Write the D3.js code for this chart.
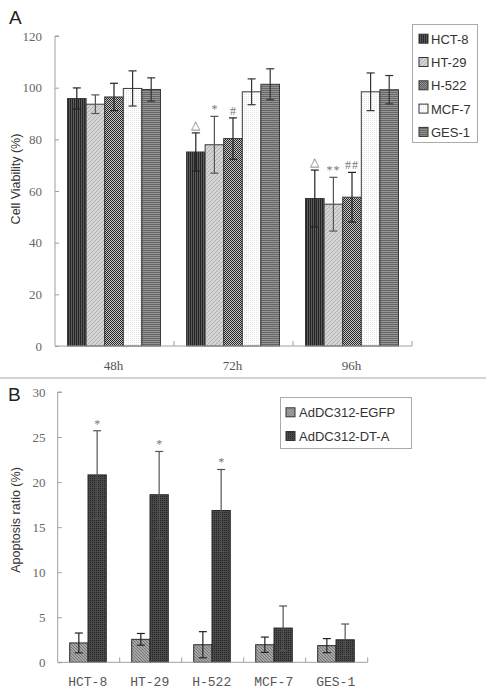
<!DOCTYPE html>
<html><head><meta charset="utf-8">
<script src="https://cdn.jsdelivr.net/npm/d3@7"></script>
<style>body{margin:0;background:#fff}svg{display:block}</style>
</head><body>
<svg id="c" width="486" height="693"></svg>
<script>
// ---------- DATA ----------
const timepoints = ["48h", "72h", "96h"];
const cellLinesA = ["HCT-8", "HT-29", "H-522", "MCF-7", "GES-1"];
const hct8Mean = [95.8, 75.1, 57.1];
const hct8Err  = [4.1, 7.4, 11.0];
const ht29Mean = [93.6, 77.9, 54.9];
const ht29Err  = [3.6, 11.0, 10.4];
const h522Mean = [96.4, 80.3, 57.6];
const h522Err  = [5.3, 8.0, 9.6];
const mcf7Mean = [99.7, 98.4, 98.4];
const mcf7Err  = [6.8, 5.0, 7.3];
const ges1Mean = [99.3, 101.3, 99.2];
const ges1Err  = [4.5, 6.0, 5.5];
const hct8Marks = ["", "\u25B3", "\u25B3"];
const ht29Marks = ["", "*", "**"];
const h522Marks = ["", "#", "##"];
const mcf7Marks = ["", "", ""];
const ges1Marks = ["", "", ""];
const yTicksA = [0, 20, 40, 60, 80, 100, 120];

const cellLinesB = ["HCT-8", "HT-29", "H-522", "MCF-7", "GES-1"];
const seriesB = ["AdDC312-EGFP", "AdDC312-DT-A"];
const egfpMean = [2.15, 2.55, 1.95, 1.95, 1.85];
const egfpErr  = [1.1, 0.65, 1.45, 0.85, 0.78];
const dtaMean  = [20.8, 18.6, 16.85, 3.8, 2.5];
const dtaErr   = [4.9, 4.8, 4.55, 2.45, 1.75];
const dtaMarks = ["*", "*", "*", "", ""];
const egfpMarks = ["", "", "", "", ""];
const yTicksB = [0, 5, 10, 15, 20, 25, 30];

// ---------- SETUP ----------
const svg = d3.select("#c");
const defs = svg.append("defs");
const serif = "'Liberation Serif','DejaVu Serif',serif";
const mono = "'Liberation Mono','DejaVu Sans Mono',monospace";
const sans = "'Liberation Sans',Arial,sans-serif";

function pat(id, w, h, bg, draw) {
  const p = defs.append("pattern").attr("id", id).attr("patternUnits", "userSpaceOnUse")
    .attr("width", w).attr("height", h);
  p.append("rect").attr("width", w).attr("height", h).attr("fill", bg);
  draw(p);
}
pat("pHCT8", 2, 2, "#5a5a5a", p => p.append("rect").attr("width", 1).attr("height", 2).attr("fill", "#262626"));
pat("pHT29", 4, 4, "#d4d4d4", p => p.append("path").attr("d", "M0,4 L4,0 M-1,1 L1,-1 M3,5 L5,3").attr("stroke", "#a8a8a8").attr("stroke-width", 0.8));
pat("pH522", 2, 2, "#c8c8c8", p => { p.append("rect").attr("width", 1).attr("height", 1).attr("fill", "#262626"); p.append("rect").attr("x", 1).attr("y", 1).attr("width", 1).attr("height", 1).attr("fill", "#262626"); });
pat("pMCF7", 2, 2, "#ffffff", p => p.append("rect").attr("width", 1).attr("height", 1).attr("fill", "#e2e2e2"));
pat("pGES1", 2, 2, "#959595", p => p.append("rect").attr("width", 2).attr("height", 1).attr("fill", "#666"));
pat("pEGFP", 3, 3, "#a6a6a6", p => p.append("path").attr("d", "M0,0 L3,3 M-1,2 L1,4 M2,-1 L4,1").attr("stroke", "#6a6a6a").attr("stroke-width", 0.8));
pat("pDTA", 2, 2, "#4a4a4a", p => p.append("rect").attr("width", 1).attr("height", 1).attr("fill", "#222"));

const fillsA = ["url(#pHCT8)", "url(#pHT29)", "url(#pH522)", "url(#pMCF7)", "url(#pGES1)"];
const errColA = ["#222", "#555", "#222", "#333", "#333"];
const fillsB = ["url(#pEGFP)", "url(#pDTA)"];
const errColB = ["#222", "#555"];

const meansA = [hct8Mean, ht29Mean, h522Mean, mcf7Mean, ges1Mean];
const errsA = [hct8Err, ht29Err, h522Err, mcf7Err, ges1Err];
const marksA = [hct8Marks, ht29Marks, h522Marks, mcf7Marks, ges1Marks];
const tableA = [];
timepoints.forEach((t, i) => cellLinesA.forEach((c, j) => tableA.push({t, c, j, v: meansA[j][i], e: errsA[j][i], m: marksA[j][i]})));

const axisCol = "#a0a0a0";

// ---------- PANEL A ----------
const xA = d3.scaleBand().domain(timepoints).range([55, 412]).padding(0);
const xAi = d3.scaleBand().domain(cellLinesA).range([12.5, 105.5]).padding(0);
const yA = d3.scaleLinear().domain([0, 120]).range([346, 36]);

const gA = svg.append("g");
gA.selectAll("rect.bar").data(tableA).join("rect").attr("class", "bar")
  .attr("x", d => xA(d.t) + xAi(d.c)).attr("width", xAi.bandwidth())
  .attr("y", d => yA(d.v)).attr("height", d => yA(0) - yA(d.v))
  .attr("fill", d => fillsA[d.j]).attr("stroke", "#3a3a3a").attr("stroke-width", 1);

const eA = gA.selectAll("g.err").data(tableA).join("g").attr("class", "err")
  .attr("stroke", d => errColA[d.j]).attr("stroke-width", 1.2);
eA.append("line").attr("x1", d => xA(d.t) + xAi(d.c) + xAi.bandwidth() / 2).attr("x2", d => xA(d.t) + xAi(d.c) + xAi.bandwidth() / 2)
  .attr("y1", d => yA(d.v + d.e)).attr("y2", d => yA(d.v - d.e));
[1, -1].forEach(s => eA.append("line")
  .attr("x1", d => xA(d.t) + xAi(d.c) + xAi.bandwidth() / 2 - 4).attr("x2", d => xA(d.t) + xAi(d.c) + xAi.bandwidth() / 2 + 4)
  .attr("y1", d => yA(d.v + s * d.e)).attr("y2", d => yA(d.v + s * d.e)));

gA.selectAll("text.mark").data(tableA.filter(d => d.m)).join("text").attr("class", "mark")
  .attr("x", d => xA(d.t) + xAi(d.c) + xAi.bandwidth() / 2)
  .attr("y", d => yA(d.v + d.e) - (d.m.includes("\u25B3") ? 4 : 3))
  .attr("text-anchor", "middle").attr("fill", "#777")
  .attr("font-family", d => d.m.includes("\u25B3") ? sans : serif)
  .attr("font-size", 12)
  .attr("letter-spacing", d => d.m.length > 1 ? 1 : 0)
  .text(d => d.m);

const axYA = gA.append("g").attr("transform", "translate(55,0)")
  .call(d3.axisRight(yA).tickValues(yTicksA).tickSize(4).tickFormat(""));
axYA.select(".domain").attr("stroke", axisCol).attr("d", `M4,${yA(120)}H0V${yA(0)}`);
axYA.selectAll(".tick line").attr("stroke", axisCol);
gA.selectAll("text.yt").data(yTicksA).join("text").attr("class", "yt")
  .attr("x", 42).attr("y", d => yA(d) + 4.5).attr("text-anchor", "end")
  .attr("font-family", serif).attr("font-size", 13).attr("fill", "#666").text(d => d);
gA.append("line").attr("x1", 55).attr("x2", 412).attr("y1", yA(0)).attr("y2", yA(0)).attr("stroke", axisCol);
gA.selectAll("line.xt").data(timepoints.slice(1).concat(["end"])).join("line").attr("class", "xt")
  .attr("x1", d => d === "end" ? 412 : xA(d)).attr("x2", d => d === "end" ? 412 : xA(d))
  .attr("y1", yA(0)).attr("y2", yA(0) - 5).attr("stroke", axisCol);
gA.selectAll("text.xl").data(timepoints).join("text").attr("class", "xl")
  .attr("x", d => xA(d) + xA.bandwidth() / 2 - 1).attr("y", 370).attr("text-anchor", "middle")
  .attr("font-family", serif).attr("font-size", 13).attr("fill", "#555").text(d => d);
gA.append("text").attr("transform", "translate(19.5,179) rotate(-90)").attr("text-anchor", "middle")
  .attr("font-family", sans).attr("font-size", 12.5).attr("fill", "#333").text("Cell Viability (%)");
gA.append("text").attr("x", 9).attr("y", 24).attr("font-family", sans).attr("font-size", 19).attr("fill", "#222").text("A");

const lgA = gA.append("g");
lgA.append("rect").attr("x", 412.5).attr("y", 24.5).attr("width", 65).attr("height", 118).attr("fill", "#fff").attr("stroke", "#aaa");
const lgAi = lgA.selectAll("g").data(cellLinesA).join("g").attr("transform", (d, i) => `translate(419,${38.7 + i * 23.3})`);
lgAi.append("rect").attr("x", 0).attr("y", -4.5).attr("width", 9).attr("height", 9).attr("fill", (d, i) => fillsA[i]).attr("stroke", "#333");
lgAi.append("text").attr("x", 12).attr("y", 5).attr("font-family", sans).attr("font-size", 13).attr("fill", "#333").text(d => d);

svg.append("line").attr("x1", 0).attr("x2", 486).attr("y1", 378).attr("y2", 378).attr("stroke", "#aaa").attr("stroke-width", 1.2);

// ---------- PANEL B ----------
const meansB = [egfpMean, dtaMean];
const errsB = [egfpErr, dtaErr];
const marksB = [egfpMarks, dtaMarks];
const tableB = [];
cellLinesB.forEach((c, i) => seriesB.forEach((s, j) => tableB.push({c, s, j, v: meansB[j][i], e: errsB[j][i], m: marksB[j][i]})));

const xB = d3.scaleBand().domain(cellLinesB).range([57.7, 367.7]).padding(0);
const xBi = d3.scaleBand().domain(seriesB).range([12, 48.6]).padding(0);
const yB = d3.scaleLinear().domain([0, 30]).range([662.3, 392]);
const gB = svg.append("g");
gB.selectAll("rect.bar").data(tableB).join("rect").attr("class", "bar")
  .attr("x", d => xB(d.c) + xBi(d.s)).attr("width", xBi.bandwidth())
  .attr("y", d => yB(d.v)).attr("height", d => yB(0) - yB(d.v))
  .attr("fill", d => fillsB[d.j]).attr("stroke", "#2a2a2a").attr("stroke-width", 1);
const eB = gB.selectAll("g.err").data(tableB).join("g").attr("class", "err")
  .attr("stroke", d => errColB[d.j]).attr("stroke-width", 1.2);
eB.append("line").attr("x1", d => xB(d.c) + xBi(d.s) + xBi.bandwidth() / 2).attr("x2", d => xB(d.c) + xBi(d.s) + xBi.bandwidth() / 2)
  .attr("y1", d => yB(d.v + d.e)).attr("y2", d => yB(d.v - d.e));
[1, -1].forEach(s => eB.append("line")
  .attr("x1", d => xB(d.c) + xBi(d.s) + xBi.bandwidth() / 2 - 4).attr("x2", d => xB(d.c) + xBi(d.s) + xBi.bandwidth() / 2 + 4)
  .attr("y1", d => yB(d.v + s * d.e)).attr("y2", d => yB(d.v + s * d.e)));
gB.selectAll("text.mark").data(tableB.filter(d => d.m)).join("text").attr("class", "mark")
  .attr("x", d => xB(d.c) + xBi(d.s) + xBi.bandwidth() / 2)
  .attr("y", d => yB(d.v + d.e) - 3).attr("text-anchor", "middle").attr("fill", "#777")
  .attr("font-family", serif).attr("font-size", 12).text(d => d.m);

const axYB = gB.append("g").attr("transform", "translate(57.7,0)")
  .call(d3.axisRight(yB).tickValues(yTicksB).tickSize(4).tickFormat(""));
axYB.select(".domain").attr("stroke", axisCol).attr("d", `M4,${yB(30)}H0V${yB(0)}`);
axYB.selectAll(".tick line").attr("stroke", axisCol);
gB.selectAll("text.yt").data(yTicksB).join("text").attr("class", "yt")
  .attr("x", 45.5).attr("y", d => yB(d) + 4.5).attr("text-anchor", "end")
  .attr("font-family", serif).attr("font-size", 13).attr("fill", "#666").text(d => d);
gB.append("line").attr("x1", 57.7).attr("x2", 367.7).attr("y1", yB(0)).attr("y2", yB(0)).attr("stroke", axisCol);
gB.selectAll("line.xt").data(cellLinesB.slice(1).concat(["end"])).join("line").attr("class", "xt")
  .attr("x1", d => d === "end" ? 367.7 : xB(d)).attr("x2", d => d === "end" ? 367.7 : xB(d))
  .attr("y1", yB(0)).attr("y2", yB(0) - 5).attr("stroke", axisCol);
gB.selectAll("text.xl").data(cellLinesB).join("text").attr("class", "xl")
  .attr("x", d => xB(d) + xB.bandwidth() / 2 - 1).attr("y", 686).attr("text-anchor", "middle")
  .attr("font-family", mono).attr("font-size", 13).attr("fill", "#555").text(d => d);
gB.append("text").attr("transform", "translate(19.5,520) rotate(-90)").attr("text-anchor", "middle")
  .attr("font-family", sans).attr("font-size", 12.5).attr("fill", "#333").text("Apoptosis ratio (%)");
gB.append("text").attr("x", 8).attr("y", 401).attr("font-family", sans).attr("font-size", 19).attr("fill", "#222").text("B");

const lgB = gB.append("g");
lgB.append("rect").attr("x", 280.5).attr("y", 397.5).attr("width", 131).attr("height", 51).attr("fill", "#fff").attr("stroke", "#aaa");
const lgBi = lgB.selectAll("g").data(seriesB).join("g").attr("transform", (d, i) => `translate(286,${412.3 + i * 23.7})`);
lgBi.append("rect").attr("x", 0).attr("y", -4.5).attr("width", 9).attr("height", 9).attr("fill", (d, i) => fillsB[i]).attr("stroke", "#333");
lgBi.append("text").attr("x", 13).attr("y", 5).attr("font-family", sans).attr("font-size", 13).attr("fill", "#333").text(d => d);
</script>
</body></html>
